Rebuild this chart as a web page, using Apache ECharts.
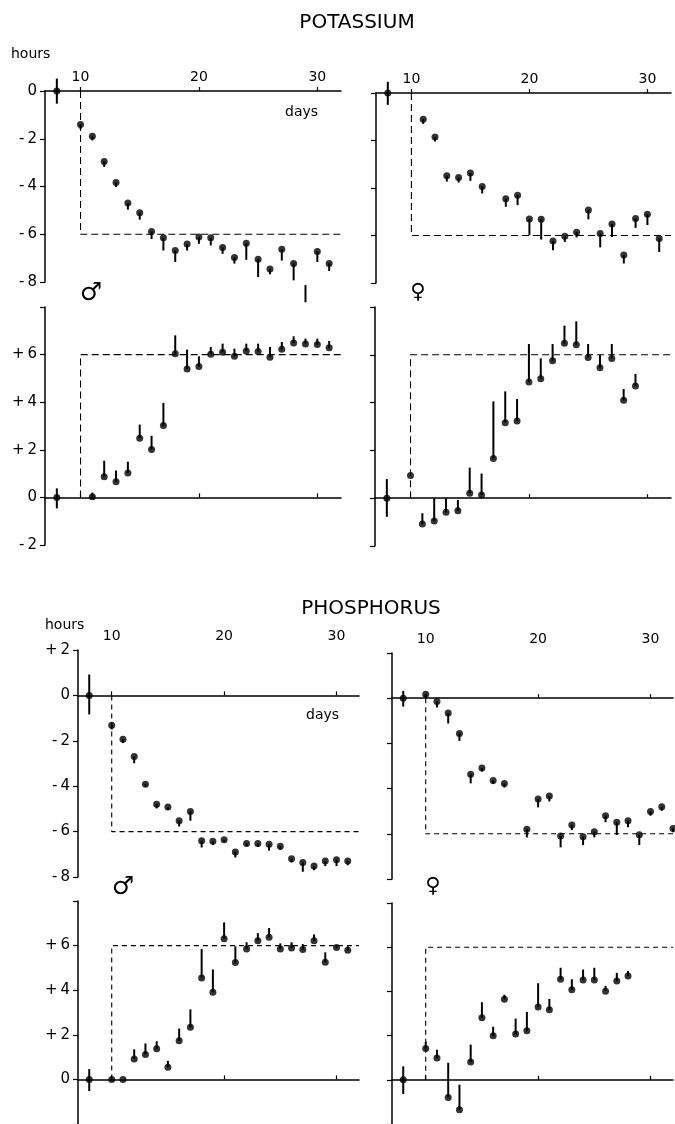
<!DOCTYPE html>
<html>
<head>
<meta charset="utf-8">
<script src="https://cdn.jsdelivr.net/npm/echarts@6/dist/echarts.min.js"></script>
<style>
html,body{margin:0;padding:0;background:#fff;}
#chart{width:675px;height:1124px;}
</style>
</head>
<body>
<div id="chart"></div>
<script>
// ---------- data (hours of phase shift vs. days) ----------
var xTickDays = [10, 20, 30];
var shiftDay = 10;      // day of the schedule change
var targetShift = 6;    // size of the imposed shift (hours)

// POTASSIUM, male, upper panel (delay)
var kMaleUpDays = [10,11,12,13,14,15,16,17,18,19,20,21,22,23,24,25,26,27,28,29,30,31];
var kMaleUpVals = [-1.4,-1.9,-2.95,-3.83,-4.69,-5.1,-5.88,-6.15,-6.68,-6.41,-6.12,-6.15,-6.55,-6.97,-6.38,-7.05,-7.46,-6.63,-7.22,-8.13,-6.72,-7.22];
var kMaleUpTips = [-1.6,-2.07,-3.18,-4.02,-4.97,-5.39,-6.2,-6.68,-7.16,-6.68,-6.4,-6.47,-6.82,-7.23,-7.07,-7.79,-7.68,-7.1,-7.93,-8.85,-7.16,-7.54];
var kMaleUpCtrl = [8, 0, -0.53, 0.52];   // day, value, low, high

// POTASSIUM, female, upper panel
var kFemUpDays = [11,12,13,14,15,16,18,19,20,21,22,23,24,25,26,27,28,29,30,31];
var kFemUpVals = [-1.1,-1.85,-3.48,-3.56,-3.37,-3.94,-4.45,-4.3,-5.31,-5.32,-6.23,-6.03,-5.86,-4.93,-5.92,-5.52,-6.82,-5.28,-5.1,-6.13];
var kFemUpTips = [-1.3,-2.04,-3.73,-3.77,-3.7,-4.23,-4.79,-4.72,-5.99,-6.17,-6.62,-6.27,-6.08,-5.32,-6.5,-6.06,-7.18,-5.68,-5.56,-6.69];
var kFemUpCtrl = [8, 0, -0.5, 0.47];

// POTASSIUM, male, lower panel (advance)
var kMaleLoDays = [11,12,13,14,15,16,17,18,19,20,21,22,23,24,25,26,27,28,29,30,31];
var kMaleLoVals = [0.03,0.87,0.66,1.03,2.49,2.01,3.02,6.04,5.4,5.5,6.01,6.1,5.93,6.15,6.13,5.89,6.22,6.49,6.45,6.42,6.29];
var kMaleLoTips = [0.2,1.54,1.13,1.5,3.06,2.59,3.97,6.81,6.21,5.93,6.32,6.46,6.25,6.46,6.46,6.32,6.53,6.77,6.67,6.67,6.57];
var kMaleLoCtrl = [8, 0, -0.46, 0.38];

// POTASSIUM, female, lower panel
var kFemLoDays = [10,11,12,13,14,15,16,17,18,19,20,21,22,23,24,25,26,27,28,29];
var kFemLoVals = [0.95,-1.08,-0.95,-0.59,-0.53,0.21,0.13,1.66,3.16,3.23,4.86,5.0,5.75,6.48,6.42,5.89,5.46,5.85,4.1,4.69];
var kFemLoTips = [0.95,-0.63,0,0,-0.07,1.28,1.03,4.05,4.47,4.15,6.45,5.85,6.45,7.22,7.4,6.45,5.99,6.45,4.57,5.2];
var kFemLoCtrl = [8, 0, -0.78, 0.8];

// PHOSPHORUS, male, upper panel
var pMaleUpDays = [10,11,12,13,14,15,16,17,18,19,20,21,22,23,24,25,26,27,28,29,30,31];
var pMaleUpVals = [-1.32,-1.93,-2.69,-3.91,-4.79,-4.92,-5.52,-5.11,-6.4,-6.43,-6.36,-6.9,-6.52,-6.52,-6.56,-6.64,-7.2,-7.36,-7.51,-7.3,-7.24,-7.29];
var pMaleUpTips = [-1.5,-2.1,-2.99,-4.02,-4.98,-5.04,-5.77,-5.52,-6.7,-6.59,-6.45,-7.14,-6.64,-6.67,-6.84,-6.81,-7.36,-7.77,-7.7,-7.52,-7.52,-7.48];
var pMaleUpCtrl = [8, 0, -0.84, 0.92];

// PHOSPHORUS, female, upper panel
var pFemUpDays = [10,11,12,13,14,15,16,17,19,20,21,22,23,24,25,26,27,28,29,30,31,32];
var pFemUpVals = [0.18,-0.15,-0.66,-1.56,-3.37,-3.09,-3.64,-3.77,-5.8,-4.46,-4.33,-6.1,-5.61,-6.13,-5.91,-5.2,-5.49,-5.42,-6.04,-5.01,-4.8,-5.76];
var pFemUpTips = [0,-0.41,-1.12,-1.89,-3.77,-3.24,-3.8,-3.95,-6.16,-4.83,-4.57,-6.6,-5.83,-6.5,-6.16,-5.49,-6.05,-5.71,-6.5,-5.2,-4.98,-5.93];
var pFemUpCtrl = [8, 0, -0.37, 0.32];

// PHOSPHORUS, male, lower panel
var pMaleLoDays = [10,11,12,13,14,15,16,17,18,19,20,21,22,23,24,25,26,27,28,29,30,31];
var pMaleLoVals = [0,0,0.91,1.12,1.37,0.55,1.73,2.34,4.55,3.91,6.31,5.24,5.85,6.22,6.37,5.85,5.89,5.82,6.22,5.25,5.91,5.79];
var pMaleLoTips = [0,0,1.35,1.61,1.71,0.83,2.28,3.14,5.85,4.93,7.04,5.97,6.15,6.56,6.79,6.1,6.15,6.07,6.5,5.7,6.01,5.97];
var pMaleLoCtrl = [8, 0, -0.52, 0.46];

// PHOSPHORUS, female, lower panel
var pFemLoDays = [10,11,12,13,14,15,16,17,18,19,20,21,22,23,24,25,26,27,28];
var pFemLoVals = [1.42,0.99,-0.8,-1.35,0.8,2.81,1.99,3.64,2.07,2.22,3.29,3.17,4.55,4.07,4.52,4.52,4.01,4.47,4.7];
var pFemLoTips = [1.73,1.36,0.77,-0.22,1.59,3.51,2.4,3.85,2.77,3.07,4.37,3.66,5.07,4.55,4.99,5.07,4.25,4.84,4.92];
var pFemLoCtrl = [8, 0, -0.64, 0.61];

// ---------- build ----------
var FONT = '"DejaVu Sans", "Liberation Sans", sans-serif';
var chart = echarts.init(document.getElementById('chart'), null, {renderer: 'canvas'});

var panels = [
  {g:{left:45, top:91, width:296, height:191}, y:[-8,0], upper:true, labels:true, hideMin:false, days:kMaleUpDays, vals:kMaleUpVals, tips:kMaleUpTips, ctrl:kMaleUpCtrl, sign:-1, dash:[7,4]},
  {g:{left:376, top:93, width:295, height:190}, y:[-8,0], upper:true, labels:false, hideMin:false, days:kFemUpDays, vals:kFemUpVals, tips:kFemUpTips, ctrl:kFemUpCtrl, sign:-1, dash:[7,4]},
  {g:{left:45, top:307, width:296, height:238}, y:[-2,8], upper:false, labels:true, hideMin:false, days:kMaleLoDays, vals:kMaleLoVals, tips:kMaleLoTips, ctrl:kMaleLoCtrl, sign:1, dash:[7,4]},
  {g:{left:375, top:307, width:296, height:239}, y:[-2,8], upper:false, labels:false, hideMin:false, days:kFemLoDays, vals:kFemLoVals, tips:kFemLoTips, ctrl:kFemLoCtrl, sign:1, dash:[7,4]},
  {g:{left:78, top:650, width:281, height:227}, y:[-8,2], upper:true, labels:true, hideMin:false, days:pMaleUpDays, vals:pMaleUpVals, tips:pMaleUpTips, ctrl:pMaleUpCtrl, sign:-1, dash:[5,4]},
  {g:{left:392, top:653, width:281, height:226}, y:[-8,2], upper:true, labels:false, hideMin:false, days:pFemUpDays, vals:pFemUpVals, tips:pFemUpTips, ctrl:pFemUpCtrl, sign:-1, dash:[5,4]},
  {g:{left:78, top:901, width:281, height:225}, y:[-2,8], upper:false, labels:true, hideMin:true, days:pMaleLoDays, vals:pMaleLoVals, tips:pMaleLoTips, ctrl:pMaleLoCtrl, sign:1, dash:[5,4]},
  {g:{left:392, top:903, width:281, height:225}, y:[-2,8], upper:false, labels:false, hideMin:true, days:pFemLoDays, vals:pFemLoVals, tips:pFemLoTips, ctrl:pFemLoCtrl, sign:1, dash:[5,4]}
];

function makeFmt(hideMin, minV){
  return function(v){
    if (v === 8) return '';
    if (hideMin && v === minV) return '';
    if (v > 0) return '+\u2009' + v;
    if (v < 0) return '-\u2009' + Math.abs(v);
    return '0';
  };
}

var grids = [], xAxes = [], yAxes = [], series = [];
panels.forEach(function(p, i){
  grids.push(Object.assign({containLabel:false}, p.g));
  xAxes.push({
    type:'value', gridIndex:i, min:7, max:32, position: p.upper ? 'top' : 'bottom',
    axisLine:{show:true, onZero:true, lineStyle:{color:'#000', width:1.5}},
    axisTick:{show:true, inside: !p.upper, length:4, customValues:xTickDays, lineStyle:{color:'#000', width:1.2}},
    axisLabel:{show:p.upper, customValues:xTickDays, color:'#000', fontSize:14, fontFamily:FONT, margin:7},
    splitLine:{show:false}
  });
  yAxes.push({
    type:'value', gridIndex:i, min:p.y[0], max:p.y[1], interval:2,
    axisLine:{show:true, onZero:false, lineStyle:{color:'#000', width:1.5}},
    axisTick:{show:true, length:5, lineStyle:{color:'#000', width:1.2}},
    axisLabel:{show:p.labels, color:'#000', fontSize:15, fontFamily:FONT, margin:8, formatter:makeFmt(p.hideMin, p.y[0])},
    splitLine:{show:false}
  });
  var lvl = p.sign * targetShift;
  series.push({
    type:'line', xAxisIndex:i, yAxisIndex:i, silent:true, symbol:'none', animation:false,
    data:[[shiftDay,0],[shiftDay,lvl],[32,lvl]],
    lineStyle:{color:'#000', width:1.1, type:p.dash}, z:1
  });
  var bars = p.days.map(function(d, k){ return [d, p.vals[k], p.vals[k], p.tips[k]]; });
  bars.push([p.ctrl[0], p.ctrl[1], p.ctrl[2], p.ctrl[3]]);
  series.push({
    type:'custom', xAxisIndex:i, yAxisIndex:i, silent:true, clip:false, z:2,
    data:bars,
    renderItem:function(params, api){
      var a = api.coord([api.value(0), api.value(2)]);
      var b = api.coord([api.value(0), api.value(3)]);
      return {type:'line', shape:{x1:a[0], y1:a[1], x2:b[0], y2:b[1]}, style:{stroke:'#000', lineWidth:2}};
    }
  });
  var pts = p.days.map(function(d, k){ return [d, p.vals[k]]; });
  pts.push([p.ctrl[0], p.ctrl[1]]);
  series.push({
    type:'scatter', xAxisIndex:i, yAxisIndex:i, silent:true, z:3,
    symbol:'circle', symbolSize:7, itemStyle:{color:'#000'}, data:pts
  });
});

function txt(x, y, s, size, align, weight){
  return {type:'text', x:x, y:y, silent:true, style:{text:s, fill:'#000', fontSize:size, fontWeight:weight||'normal', fontFamily:FONT, textAlign:align||'left', verticalAlign:'middle'}};
}

chart.setOption({
  animation:false,
  backgroundColor:'#fff',
  grid:grids, xAxis:xAxes, yAxis:yAxes, series:series,
  graphic:[
    txt(357, 23, 'POTASSIUM', 20, 'center'),
    txt(11, 54, 'hours', 14),
    txt(285, 112, 'days', 14),
    txt(91, 293, '\u2642', 25, 'center', 'bold'),
    txt(418, 293, '\u2640', 21, 'center', 'bold'),
    txt(371, 609, 'PHOSPHORUS', 20, 'center'),
    txt(45, 625, 'hours', 14),
    txt(306, 715, 'days', 14),
    txt(123, 887, '\u2642', 25, 'center', 'bold'),
    txt(433, 887, '\u2640', 21, 'center', 'bold')
  ]
});
</script>
</body>
</html>
